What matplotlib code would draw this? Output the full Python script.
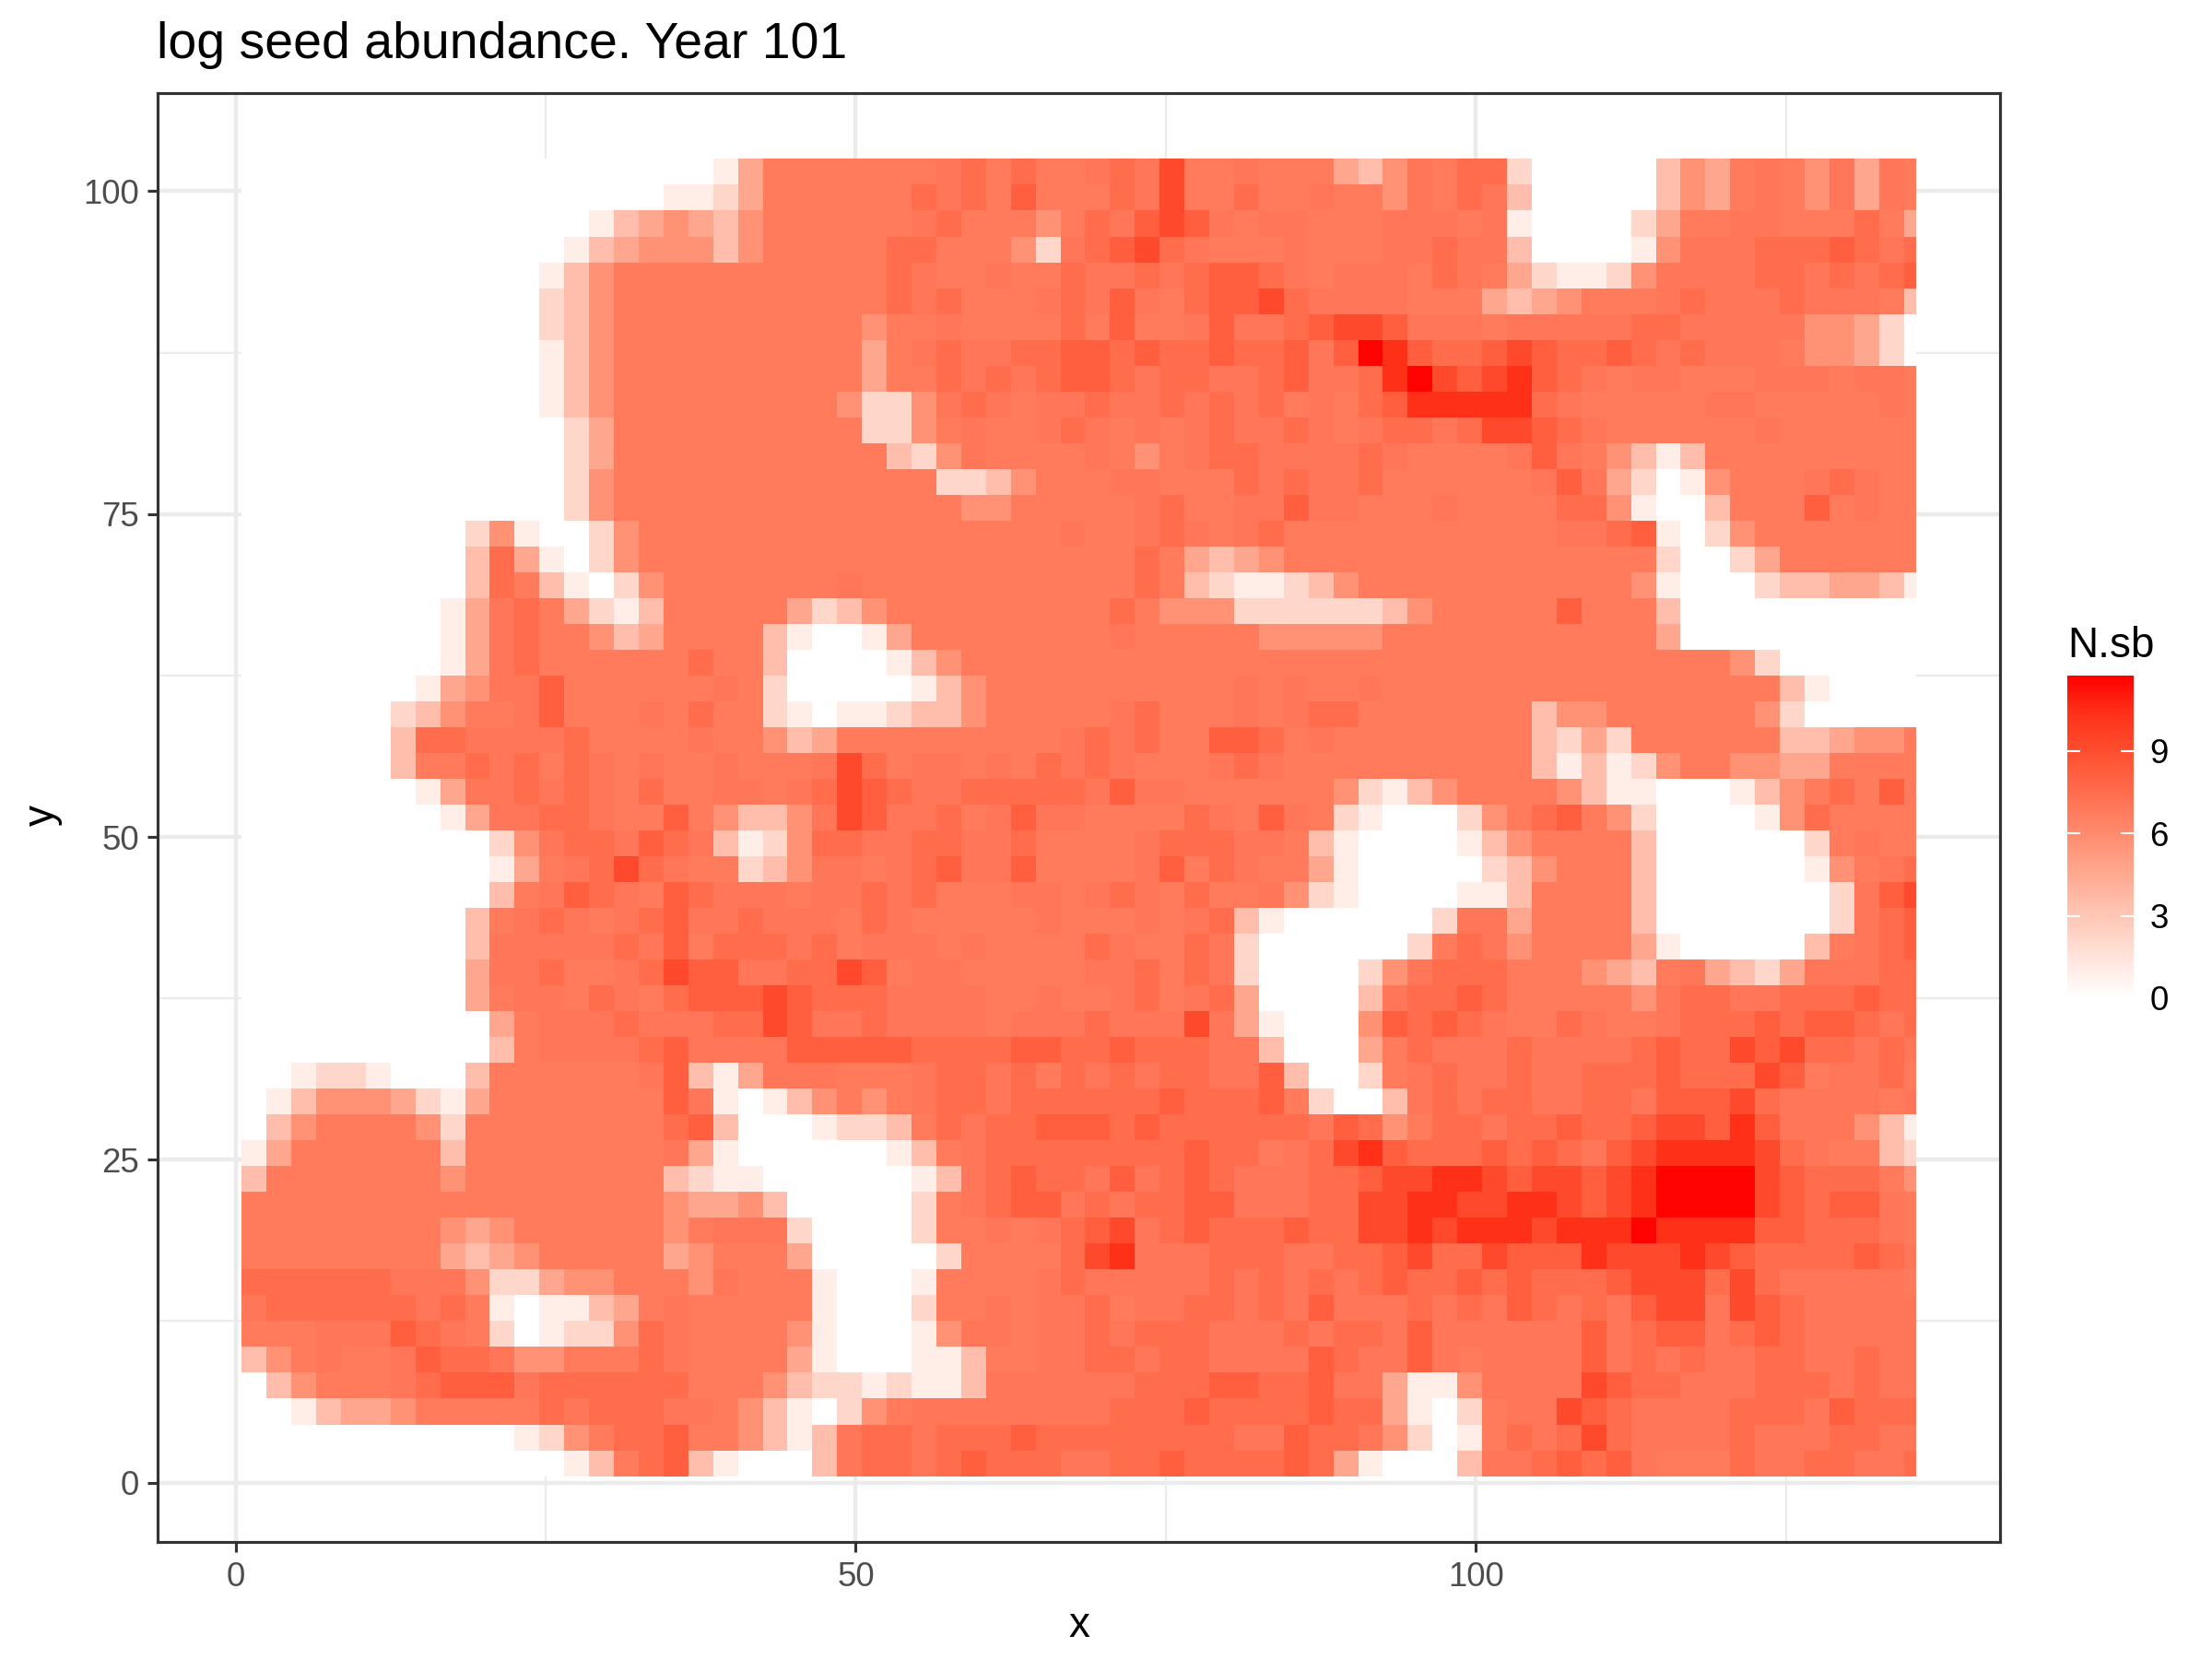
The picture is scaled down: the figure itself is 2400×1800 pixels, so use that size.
import numpy as np
import matplotlib
matplotlib.use("Agg")
import matplotlib.pyplot as plt
from matplotlib.colors import LinearSegmentedColormap

plt.rcParams['font.family'] = ['Liberation Sans', 'DejaVu Sans']

TITLE = "log seed abundance. Year 101"
X_TICKS = [0, 50, 100]
Y_TICKS = [0, 25, 50, 75, 100]
LEGEND_TICKS = [0, 3, 6, 9]
N_MAX = 11.75
# one character per 2x2 block of cells; top row first
N_LEVELS = [0, 1, 2.2, 3.4, 4.6, 5.7, 6.8, 7.0, 7.5, 8.2, 9.2, 10.4, 11.7]
ROWS = [
"0000000000 0000000001 4666666678 6866787a66 7666435768 8200000354 67657476",
"0000000000 0000000112 4666666878 6966687a66 8667665768 7300000354 67657476",
"0000000000 0000134543 5666666786 6656879a97 6776667776 7100002466 77666864",
"0000000000 0001345553 5666668866 652789a876 6676667787 7300001577 78889878",
"0000000000 0013566666 6666668766 7668778789 9876777687 6421125777 78878789",
"0000000000 0023566666 6666668786 6678797689 9a87777666 4345666787 77877763",
"0000000000 0023566666 6666656676 6668696679 7789aa9777 6777778877 77755420",
"0000000000 0013566666 6666646787 7889989889 88979cb988 9a98898787 77655420",
"0000000000 0013566666 6666646687 8789987887 78977 8bca9 ab98767766 67776776",
"0000000000 0013566666 6666522578 7677877878 7867689bbb bb87666667 76666676",
"0000000000 0002466666 6666622567 6678767678 7787678878 aa98766666 67666666",
"0000000000 0002466666 6666663257 6666765678 8777787666 6797653136 66666666",
"0000000000 0002566666 6666666622 3566677666 8787786666 6679742015 66678766",
"0000000000 0002566666 6666666665 5666667866 7797766676 6668851003 66696766",
"0000000002 5100256666 6666666666 6667667876 7866666666 6667789102 56666666",
"0000000003 8410256666 6666666666 6666668643 4566666666 6666666200 24666666",
"0000000003 8631025666 6666766666 6666668632 1123566666 6666665100 02334431",
"0000000014 7864213666 6642356666 6666686555 2222223566 6669666300 00000000",
"0000000014 7866534666 6310014666 6666676666 6555556666 6666666400 00000000",
"0000000014 7866666686 6300001356 6666666666 6666666666 6666666666 52000000",
"0000000145 7796666667 6200000135 6666666666 7676676666 6666666666 66310000",
"0000002356 6796667686 6210112335 6666678666 7678866666 6635566666 65200000",
"0000003887 7778666676 6534666666 6667878669 9867666666 6632426666 66334556",
"0000003668 7868767667 6667a86776 7687876667 8766666666 6631312566 55446666",
"0000000147 7878768667 7678a98778 8888797766 6666521356 6665311000 13568696",
"0000000014 7788766965 3357a97786 7977666687 6976210002 5689652000 01586666",
"0000000000 2578879873 1258877887 7866667888 7763100001 3566663000 00026766",
"0000000000 14678a8766 2357767897 7966667968 7664100000 2356663000 00015678",
"0000000000 3679876987 7767787866 6776787686 6752100001 1366663000 0000279a",
"0000000003 6787678977 8777687666 6676667678 3100000027 7466663000 00002789",
"0000000003 7777787968 8878677767 6666876687 2000000268 7566664100 00036789",
"0000000004 7786678a99 7788a96776 6666778687 2000025788 8666543674 32477788",
"0000000004 6776876899 9a98887777 6676678678 4000037889 8666665788 77888988",
"0000000000 4677787778 8a97787777 67778777a7 4100059898 7668766788 89899878",
"0000000000 3677778977 7799999888 8998898887 7300046877 7877778988 a9a88787",
"0012210003 6666667931 4777666788 7868787887 7930026787 7877888988 8a967786",
"0135554214 6666666971 0135656788 7888888988 8962003787 8877887999 a8777767",
"0356666526 6666666893 0001223687 8899989888 8887985688 7889889aa9 b9777531",
"1466666636 6666666741 0000001367 8888888898 8678ab9888 989879abbb ba876632",
"3666666656 6666666321 1000000137 8988797898 777889aabb a9aa9abccc ca988865",
"6666666666 6666666544 5300000267 8997878899 77788aabba abba9abccc ca989976",
"6666666654 5666666567 7720000266 767 89a7898 8898 8aabab bbabbbcbbb b9988876",
"6666666643 4566666456 6640000026 6668ab7778 8877889a88 a999baaaba 98888987",
"8888887775 2245566657 6661000166 6678777778 7878789889 898889aaa8 a8777776",
"7888888786 1011346766 6661000266 7677867788 7879777878 7987879aa7 a9877777",
"6667779876 2012258766 6651000157 7677878887 7787887977 7777978997 89877777",
"3567667988 7556668766 6641000113 6677887887 7779877976 7777978787 78877877",
"0356667899 9788888866 6532212113 7777778889 9889774115 7777a98877 78887877",
"0013445666 6687888776 5310256777 7777788898 8889884102 677a987777 88879888",
"0000000000 0125688966 5313788788 8988888888 7798875201 6878a87777 87778877",
"0000000000 0001368931 0003788789 8887788988 8898410003 7789897666 87788778",
]

levels = np.array([[int(ch, 16) for ch in r.replace(" ", "")] for r in ROWS])
values = np.array(N_LEVELS)[levels][::-1]
x_edges = np.minimum(0.5 + 2 * np.arange(levels.shape[1] + 1), 135.5)
y_edges = 0.5 + 2 * np.arange(levels.shape[0] + 1)

cmap = LinearSegmentedColormap.from_list("nsb", [
    (0 / N_MAX, "#FFFFFF"), (1.5 / N_MAX, "#FFE3DA"), (3 / N_MAX, "#FFC6B5"),
    (4.5 / N_MAX, "#FFA991"), (6 / N_MAX, "#FF8B6E"), (7.5 / N_MAX, "#FF6D4D"),
    (9 / N_MAX, "#FF4E2F"), (10.5 / N_MAX, "#FF2E17"), (1.0, "#FF0000")])

W, H = 2400, 1800
fig = plt.figure(figsize=(8, 6), dpi=300)
L, R, T, B = 171.4, 2170, 101, 1673
ax = fig.add_axes([L / W, 1 - B / H, (R - L) / W, (B - T) / H])
ax.set_xlim(-6.25, 142.25)
ax.set_ylim(-4.6, 107.6)
ax.set_axisbelow(True)
ax.set_xticks(X_TICKS)
ax.set_yticks(Y_TICKS)
ax.set_xticks([25, 75, 125], minor=True)
ax.set_yticks([12.5, 37.5, 62.5, 87.5], minor=True)
ax.grid(True, which='major', color='#EBEBEB', lw=1.07)
ax.grid(True, which='minor', color='#EBEBEB', lw=0.53)
mesh = ax.pcolormesh(x_edges, y_edges, values, cmap=cmap, vmin=0, vmax=N_MAX,
                     antialiased=False, linewidth=0, zorder=2)
ax.tick_params(which='major', length=2.75, width=0.75, color='#333333',
               labelcolor='#4D4D4D', labelsize=8.8, pad=2.2)
ax.tick_params(which='minor', length=0)
for s in ax.spines.values():
    s.set_color('#333333')
    s.set_linewidth(0.75)
    s.set_zorder(5)

fig.text(170 / W, 1 - 63 / H, TITLE, fontsize=13.3, color='black', ha='left', va='baseline')
fig.text(1171 / W, 1 - 1764 / H, "x", fontsize=11, ha='center', va='center')
fig.text(46 / W, 1 - 885 / H, "y", fontsize=11, rotation=90, ha='center', va='center')

cax = fig.add_axes([2243 / W, 1 - 1083 / H, 72 / W, 350 / H])
cb = fig.colorbar(mesh, cax=cax)
cb.outline.set_visible(False)
cb.set_ticks(LEGEND_TICKS)
cax.tick_params(direction='in', color='white', length=3.4, width=0.5,
                left=True, right=True, labelsize=8.8, labelcolor='black', pad=4.2)
fig.text(2243 / W, 1 - 713 / H, "N.sb", fontsize=11, ha='left', va='baseline')

fig.savefig("out.png", dpi=300, facecolor='white')
